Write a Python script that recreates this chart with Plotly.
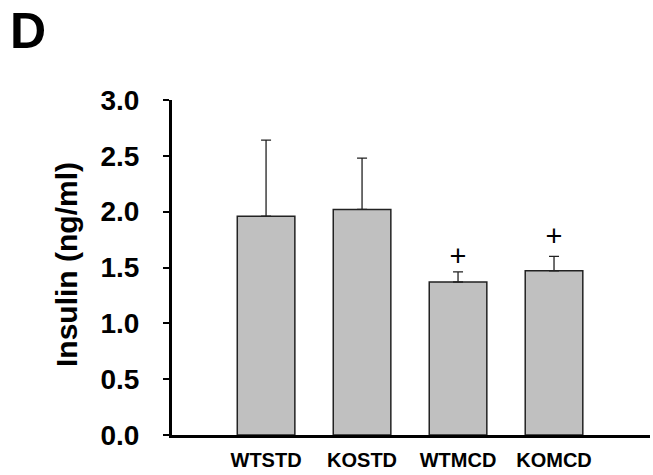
import plotly.graph_objects as go

categories = ["WTSTD", "KOSTD", "WTMCD", "KOMCD"]
insulin_mean = [1.96, 2.02, 1.37, 1.47]
insulin_err = [0.68, 0.46, 0.09, 0.13]
marker_text = ["", "", "+", "+"]
marker_y = [None, None, 1.58, 1.76]
y_ticks = [0.0, 0.5, 1.0, 1.5, 2.0, 2.5, 3.0]
y_title = "Insulin (ng/ml)"
panel_label = "D"

FONT = "Liberation Sans, Arial, Helvetica, sans-serif"
xpos = list(range(len(categories)))

fig = go.Figure()
fig.add_trace(go.Bar(
    x=xpos, y=insulin_mean, width=0.6,
    marker=dict(color="#c0c0c0", line=dict(color="#222222", width=1.5)),
    error_y=dict(type="data", array=insulin_err, arrayminus=[0]*len(insulin_err),
                 symmetric=False, color="#222222", thickness=1.3, width=5),
    showlegend=False, hoverinfo="skip",
))
fig.add_trace(go.Scatter(
    x=xpos, y=marker_y, mode="text", text=marker_text,
    textposition="middle center",
    textfont=dict(family=FONT, size=29, color="#000000"),
    showlegend=False, hoverinfo="skip",
))

fig.update_layout(
    width=653, height=475,
    margin=dict(l=172, r=3, t=100, b=40),
    paper_bgcolor="white", plot_bgcolor="white",
    font=dict(family=FONT, color="#000000"),
    xaxis=dict(
        range=[-0.98, 4.0], showline=True, linewidth=3, linecolor="#000000",
        showgrid=False, zeroline=False, ticks="",
        tickmode="array", tickvals=xpos, ticktext=categories,
        tickfont=dict(family=FONT, size=20, weight="bold"),
        ticklabelstandoff=5,
    ),
    yaxis=dict(
        range=[0, 3], showline=True, linewidth=3, linecolor="#000000",
        showgrid=False, zeroline=False, ticks="outside", ticklen=6,
        tickwidth=1.5, tickcolor="#000000",
        tickmode="array", tickvals=y_ticks,
        ticktext=[f"{v:.1f}" for v in y_ticks],
        tickfont=dict(family=FONT, size=28, weight="bold"),
        ticklabelstandoff=18,
    ),
    annotations=[
        dict(text=panel_label, xref="paper", yref="paper",
             x=(8 - 172) / 478, y=1 + (100 - 1) / 335,
             xanchor="left", yanchor="top", showarrow=False,
             font=dict(family=FONT, size=50, weight="bold", color="#000000")),
        dict(text=y_title, xref="paper", yref="paper",
             x=(66 - 172) / 478, y=(435 - 265) / 335,
             xanchor="center", yanchor="middle", textangle=-90, showarrow=False,
             font=dict(family=FONT, size=30, weight="bold", color="#000000")),
    ],
)

fig.write_html("out.html", config={"displayModeBar": False},
               post_script="document.body.style.margin='0';")
